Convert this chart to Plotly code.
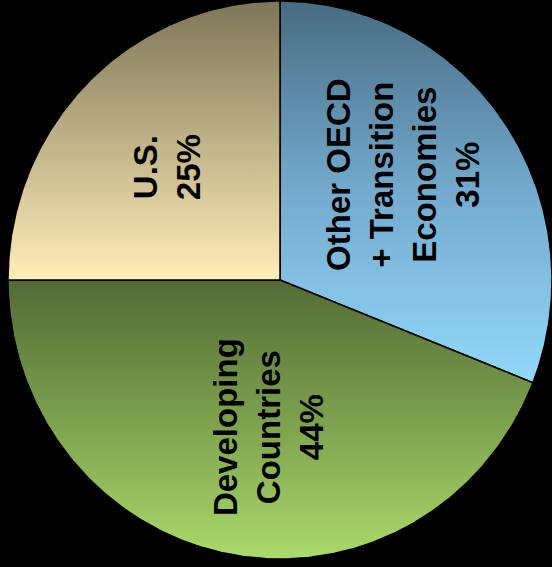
import numpy as np
import plotly.graph_objects as go

# Shares, listed clockwise from 12 o'clock
labels = ["Other OECD<br>+ Transition<br>Economies", "Developing<br>Countries", "U.S."]
shares = [31, 44, 25]

# Vertical gradient for each slice: (bottom colour, middle colour, top colour)
gradients = [
    ("rgb(148,216,250)", "rgb(116,170,206)", "rgb(72,107,128)"),
    ("rgb(172,218,108)", "rgb(124,160,78)", "rgb(83,106,54)"),
    ("rgb(255,238,186)", "rgb(190,178,136)", "rgb(124,117,88)"),
]

# Label anchor points, in units of the pie radius
label_pos = [(0.452, 0.380), (-0.044, -0.527), (-0.415, 0.405)]

W, H = 552, 567
CX, CY = 280, 280      # pie centre in pixels
RX, RY = 272, 279      # pie radii in pixels

fig = go.Figure()

total = float(sum(shares))
start = 0.0
for share, (c0, c1, c2) in zip(shares, gradients):
    a0 = np.pi / 2 - 2 * np.pi * start / total
    a1 = np.pi / 2 - 2 * np.pi * (start + share) / total
    t = np.linspace(a0, a1, 240)
    xs = np.concatenate([[0.0], np.cos(t), [0.0]])
    ys = np.concatenate([[0.0], np.sin(t), [0.0]])
    fig.add_trace(go.Scatter(
        x=xs, y=ys, mode="lines", fill="toself",
        line=dict(color="black", width=1.5),
        fillgradient=dict(type="vertical",
                          colorscale=[[0, c0], [0.5, c1], [1, c2]]),
        hoverinfo="skip", showlegend=False,
    ))
    start += share

for text, share, (lx, ly) in zip(labels, shares, label_pos):
    fig.add_annotation(
        x=lx, y=ly, xref="x", yref="y",
        text=f"<b>{text}<br>{share}%</b>",
        showarrow=False, textangle=-90,
        xanchor="center", yanchor="middle", align="center",
        font=dict(family="Liberation Sans, Arial, sans-serif", size=33, color="black"),
    )

fig.update_layout(
    width=W, height=H,
    margin=dict(l=0, r=0, t=0, b=0),
    paper_bgcolor="black", plot_bgcolor="black",
    xaxis=dict(range=[-CX / RX, (W - CX) / RX], visible=False, fixedrange=True),
    yaxis=dict(range=[-(H - CY) / RY, CY / RY], visible=False, fixedrange=True),
    showlegend=False,
)

fig.write_html("out.html")
